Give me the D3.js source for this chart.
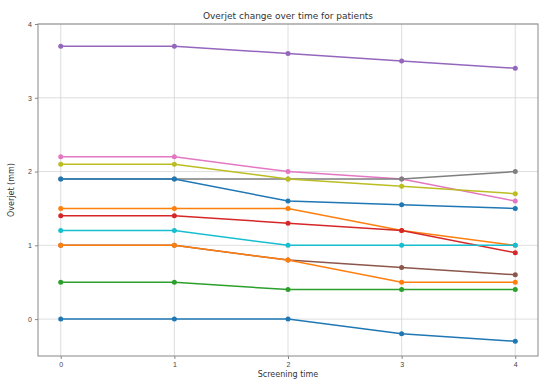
<!DOCTYPE html>
<html>
<head>
<meta charset="utf-8">
<script src="https://cdn.jsdelivr.net/npm/d3@7"></script>
<style>
  html, body { margin: 0; padding: 0; background: #fff; }
  svg { display: block; font-family: "DejaVu Sans", sans-serif; }
</style>
</head>
<body>
<svg id="chart" width="540" height="380"></svg>
<script>
// Screening sessions along the x axis
const screenings = [0, 1, 2, 3, 4];
const yTicks = [0, 1, 2, 3, 4];

// Overjet (mm) per patient at each screening
const patient1 = [0.0, 0.0, 0.0, -0.2, -0.3];
const patient2 = [1.5, 1.5, 1.5, 1.2, 1.0];
const patient3 = [0.5, 0.5, 0.4, 0.4, 0.4];
const patient4 = [1.4, 1.4, 1.3, 1.2, 0.9];
const patient5 = [3.7, 3.7, 3.6, 3.5, 3.4];
const patient6 = [1.0, 1.0, 0.8, 0.7, 0.6];
const patient7 = [2.2, 2.2, 2.0, 1.9, 1.6];
const patient8 = [1.9, 1.9, 1.9, 1.9, 2.0];
const patient9 = [2.1, 2.1, 1.9, 1.8, 1.7];
const patient10 = [1.2, 1.2, 1.0, 1.0, 1.0];
const patient11 = [1.9, 1.9, 1.6, 1.55, 1.5];
const patient12 = [1.0, 1.0, 0.8, 0.5, 0.5];

const patients = [patient1, patient2, patient3, patient4, patient5, patient6,
                  patient7, patient8, patient9, patient10, patient11, patient12];

const palette = ["#1f77b4", "#ff7f0e", "#2ca02c", "#d62728", "#9467bd",
                 "#8c564b", "#e377c2", "#7f7f7f", "#bcbd22", "#17becf"];

const margin = { top: 24, right: 2, bottom: 24, left: 38 };
const width = 540, height = 380;
const svg = d3.select("#chart");

const x = d3.scaleLinear().domain([-0.2, 4.2]).range([margin.left, width - margin.right]);
const y = d3.scaleLinear().domain([-0.5, 4]).range([height - margin.bottom, margin.top]);

// Grid
const grid = svg.append("g").attr("stroke", "#d6d6d6").attr("stroke-width", 0.8);
grid.selectAll("line.v").data(screenings).join("line")
  .attr("x1", d => x(d)).attr("x2", d => x(d))
  .attr("y1", y(-0.5)).attr("y2", y(4));
grid.selectAll("line.h").data(yTicks).join("line")
  .attr("x1", x(-0.2)).attr("x2", x(4.2))
  .attr("y1", d => y(d)).attr("y2", d => y(d));

// Axes
const xAxis = svg.append("g")
  .attr("transform", `translate(0,${y(-0.5)})`)
  .call(d3.axisBottom(x).tickValues(screenings).tickFormat(d3.format("d")).tickSize(3).tickSizeOuter(0));
const yAxis = svg.append("g")
  .attr("transform", `translate(${x(-0.2)},0)`)
  .call(d3.axisLeft(y).tickValues(yTicks).tickFormat(d3.format("d")).tickSize(3).tickSizeOuter(0));
[xAxis, yAxis].forEach(a => {
  a.select(".domain").remove();
  a.selectAll(".tick line").attr("stroke", "#888");
  a.selectAll(".tick text").attr("fill", "#444").style("font-size", "7px");
});

// Frame
svg.append("rect")
  .attr("x", x(-0.2)).attr("y", y(4))
  .attr("width", x(4.2) - x(-0.2)).attr("height", y(-0.5) - y(4))
  .attr("fill", "none").attr("stroke", "#888").attr("stroke-width", 1);

// Patient lines and markers
const line = d3.line().x((d, i) => x(screenings[i])).y(d => y(d));
patients.forEach((vals, k) => {
  const c = palette[k % palette.length];
  const g = svg.append("g");
  g.append("path").datum(vals).attr("d", line)
    .attr("fill", "none").attr("stroke", c).attr("stroke-width", 1.5);
  g.selectAll("circle").data(vals).join("circle")
    .attr("cx", (d, i) => x(screenings[i])).attr("cy", d => y(d))
    .attr("r", 2.5).attr("fill", c);
});

// Titles
svg.append("text")
  .attr("x", (x(-0.2) + x(4.2)) / 2).attr("y", 19)
  .attr("text-anchor", "middle").attr("fill", "#333").style("font-size", "9px")
  .text("Overjet change over time for patients");
svg.append("text")
  .attr("x", (x(-0.2) + x(4.2)) / 2).attr("y", 377)
  .attr("text-anchor", "middle").attr("fill", "#333").style("font-size", "8px")
  .text("Screening time");
svg.append("text")
  .attr("transform", `translate(14,${(y(-0.5) + y(4)) / 2}) rotate(-90)`)
  .attr("text-anchor", "middle").attr("fill", "#333").style("font-size", "8px")
  .text("Overjet (mm)");
</script>
</body>
</html>
